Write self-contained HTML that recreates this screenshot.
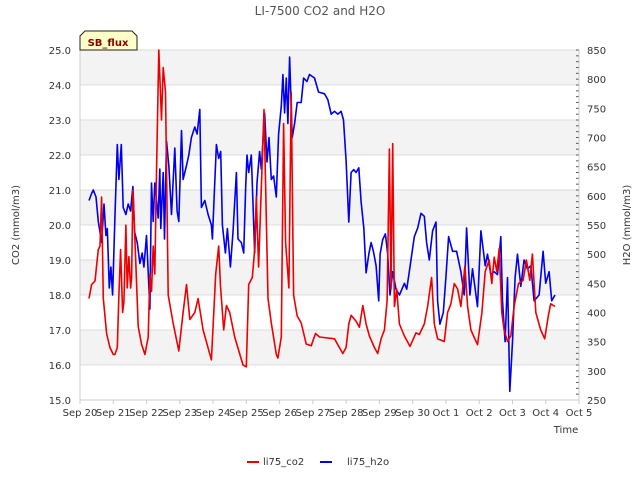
<!DOCTYPE html>
<html><head><meta charset="utf-8"><style>
body{margin:0;background:#fff;}
svg{display:block;font-family:"DejaVu Sans","Liberation Sans",sans-serif;}
</style></head><body>
<svg id="chart" width="640" height="480">
<text x="320" y="15" text-anchor="middle" font-size="12" fill="#555">LI-7500 CO2 and H2O</text>
<g id="bands"></g><g id="grid"></g><g id="axes"></g><g id="series"></g>
<text x="19" y="225" transform="rotate(-90 19 225)" text-anchor="middle" font-size="10" fill="#333">CO2 (mmol/m3)</text>
<text x="630" y="225" transform="rotate(-90 630 225)" text-anchor="middle" font-size="10" fill="#333">H2O (mmol/m3)</text>
<text x="566" y="433" text-anchor="middle" font-size="10" fill="#333">Time</text>
<g>
<path d="M80,50 L80,36 L85,31 L132,31 L137,36 L137,50 Z" fill="#ffffc8" stroke="#222" stroke-width="1"/>
<text x="108" y="46" text-anchor="middle" font-size="10" font-weight="bold" fill="#8b0000">SB_flux</text>
</g>
<g><line x1="247" y1="462" x2="259" y2="462" stroke="#e00" stroke-width="2"/><text x="263" y="465" font-size="10" fill="#333">li75_co2</text></g>
<g><line x1="320" y1="462" x2="332" y2="462" stroke="#00f" stroke-width="2"/><text x="347" y="465" font-size="10" fill="#333">li75_h2o</text></g>
</svg>
<script>
const xTickLabels=["Sep 20","Sep 21","Sep 22","Sep 23","Sep 24","Sep 25","Sep 26","Sep 27","Sep 28","Sep 29","Sep 30","Oct 1","Oct 2","Oct 3","Oct 4","Oct 5"];
const leftTicks=[15,16,17,18,19,20,21,22,23,24,25];
const rightTicks=[250,300,350,400,450,500,550,600,650,700,750,800,850];
const co2T=[0.27,0.35,0.45,0.55,0.6,0.65,0.7,0.8,0.9,1.0,1.05,1.12,1.17,1.22,1.28,1.32,1.38,1.42,1.47,1.52,1.55,1.59,1.65,1.75,1.85,1.95,2.05,2.1,2.15,2.2,2.25,2.3,2.37,2.45,2.5,2.57,2.65,2.8,2.97,3.1,3.2,3.3,3.45,3.55,3.7,3.95,4.08,4.17,4.22,4.32,4.4,4.5,4.65,4.9,5.0,5.07,5.18,5.25,5.3,5.37,5.53,5.65,5.75,5.9,5.95,6.05,6.12,6.18,6.28,6.35,6.42,6.53,6.65,6.8,6.95,7.08,7.2,7.65,7.9,8.0,8.08,8.15,8.3,8.4,8.5,8.6,8.7,8.85,8.95,9.05,9.15,9.23,9.3,9.35,9.4,9.45,9.52,9.6,9.75,9.92,10.1,10.2,10.35,10.45,10.57,10.65,10.75,10.95,11.05,11.15,11.25,11.35,11.45,11.57,11.65,11.75,11.95,12.08,12.18,12.3,12.38,12.45,12.53,12.6,12.68,12.75,12.85,12.95,13.05,13.18,13.32,13.42,13.52,13.6,13.7,13.85,13.97,14.08,14.15,14.28];
const co2V=[17.9,18.3,18.4,19.3,19.4,20.8,17.9,16.9,16.5,16.3,16.3,16.5,18.0,19.3,17.5,17.8,20.0,18.2,19.1,18.2,18.5,21.0,19.6,17.1,16.6,16.3,16.8,18.6,18.1,19.4,18.6,21.5,25.0,23.0,24.5,23.8,18.0,17.2,16.4,17.5,18.3,17.3,17.5,17.9,17.0,16.15,18.6,19.4,18.3,17.0,17.7,17.5,16.8,16.0,15.95,18.3,18.5,19.3,20.8,18.8,23.3,17.9,17.2,16.3,16.2,16.8,22.9,19.5,18.2,23.8,18.0,17.4,17.2,16.6,16.55,16.9,16.8,16.75,16.33,16.5,17.17,17.42,17.25,17.08,17.7,17.17,16.83,16.5,16.33,16.75,17.0,17.83,22.17,18.17,22.33,17.67,18.17,17.17,16.83,16.53,16.92,16.87,17.17,17.67,18.5,17.17,16.75,16.67,17.5,17.75,18.33,18.17,17.67,18.83,17.67,17.0,16.58,17.5,18.67,19.0,18.33,19.08,18.67,19.33,17.5,17.0,16.67,16.83,17.67,18.33,18.42,19.0,18.42,19.17,17.5,17.0,16.75,17.42,17.75,17.67];
const h2oT=[0.27,0.35,0.4,0.48,0.55,0.65,0.72,0.78,0.82,0.88,0.93,0.98,1.05,1.12,1.17,1.24,1.3,1.38,1.45,1.52,1.59,1.64,1.72,1.8,1.87,1.92,2.0,2.1,2.15,2.2,2.25,2.35,2.4,2.43,2.5,2.54,2.6,2.67,2.75,2.85,2.92,2.97,3.05,3.1,3.2,3.27,3.35,3.45,3.52,3.6,3.65,3.75,3.85,3.95,3.98,4.02,4.1,4.17,4.23,4.28,4.37,4.43,4.52,4.6,4.7,4.75,4.85,4.92,4.98,5.02,5.07,5.15,5.25,5.32,5.4,5.45,5.55,5.62,5.68,5.75,5.82,5.9,5.97,6.05,6.1,6.15,6.2,6.25,6.3,6.38,6.45,6.53,6.65,6.72,6.82,6.9,7.05,7.17,7.35,7.45,7.55,7.65,7.75,7.85,7.92,8.0,8.08,8.15,8.23,8.3,8.38,8.45,8.53,8.6,8.68,8.75,8.82,8.9,8.98,9.02,9.1,9.18,9.25,9.32,9.4,9.5,9.6,9.75,9.82,9.9,10.05,10.15,10.25,10.35,10.42,10.5,10.6,10.7,10.75,10.82,10.92,11.0,11.08,11.2,11.32,11.45,11.55,11.62,11.72,11.8,11.95,12.05,12.18,12.25,12.35,12.45,12.55,12.65,12.7,12.78,12.85,12.92,13.0,13.08,13.15,13.25,13.35,13.45,13.55,13.65,13.8,13.92,14.0,14.1,14.18,14.28];
const h2oV=[592,604,610,598,556,520,586,532,544,442,478,430,562,688,628,688,580,568,586,574,616,538,520,484,502,478,532,406,622,556,622,562,646,544,640,526,694,652,568,682,574,556,712,628,652,670,700,718,706,748,580,592,568,550,526,580,688,664,676,550,502,544,478,538,640,526,520,502,616,670,640,670,502,622,676,646,742,658,700,628,634,598,706,754,808,742,802,724,838,700,724,760,760,802,796,808,802,778,775,765,740,745,740,745,730,660,555,640,645,640,648,590,545,468,500,520,505,480,420,500,525,535,500,430,470,440,430,450,440,470,530,545,570,565,520,490,540,555,420,380,400,460,530,505,505,470,430,545,430,475,410,540,480,500,465,470,465,530,420,350,460,265,350,460,500,445,490,475,480,420,430,505,450,470,420,430];
const NS='http://www.w3.org/2000/svg';
const X0=80,X1=579,Y0=50,Y1=400;
const xS=t=>X0+t*(X1-X0)/15;
const yL=v=>Y1-(v-15)*(Y1-Y0)/10;
const yR=v=>Y1-(v-250)*(Y1-Y0)/600;
function mk(tag,attrs,parent){const e=document.createElementNS(NS,tag);for(const k in attrs)e.setAttribute(k,attrs[k]);parent.appendChild(e);return e;}
const bands=document.getElementById('bands'),grid=document.getElementById('grid'),axes=document.getElementById('axes'),series=document.getElementById('series');
mk('rect',{x:X0,y:Y0,width:X1-X0,height:Y1-Y0,fill:'#fff'},bands);
for(let i=16;i<25;i+=2){const r=mk('rect',{x:X0,y:yL(i+1),width:X1-X0,height:yL(i)-yL(i+1),fill:'#f3f3f3'},bands);

}
leftTicks.forEach(v=>{const l=mk('line',{x1:X0,x2:X1,y1:yL(v),y2:yL(v),stroke:'#ddd','stroke-width':1},grid);


const t=mk('text',{x:X0-9,y:yL(v)+4,'text-anchor':'end','font-size':10,fill:'#333'},axes);t.textContent=v.toFixed(1);

});
rightTicks.forEach(v=>{const t=mk('text',{x:X1+8,y:yR(v)+4,'font-size':10,fill:'#333'},axes);t.textContent=v;

});
for(let v=250;v<=850;v+=10){mk('line',{x1:X1-3,x2:X1,y1:yR(v),y2:yR(v),stroke:'#555','stroke-width':1},axes);}
mk('line',{x1:X0,x2:X0,y1:Y0,y2:Y1,stroke:'#ccc'},axes);
mk('line',{x1:X1,x2:X1,y1:Y0,y2:Y1,stroke:'#ccc'},axes);
mk('line',{x1:X0,x2:X1,y1:Y1,y2:Y1,stroke:'#ccc'},axes);
xTickLabels.forEach((s,i)=>{mk('line',{x1:xS(i),x2:xS(i),y1:Y1,y2:Y1+4,stroke:'#ccc'},axes);
const t=mk('text',{x:xS(i),y:Y1+16,'text-anchor':'middle','font-size':10,fill:'#333'},axes);t.textContent=s;

});
function line(T,V,ys,color,name){const d=T.map((t,i)=>(i?'L':'M')+xS(t).toFixed(1)+','+ys(V[i]).toFixed(1)).join('');
const p=mk('path',{d:d,fill:'none',stroke:color,'stroke-width':1.6,'stroke-linejoin':'round'},series);

}
line(h2oT,h2oV,yR,'#0000ee','h2o-line');
line(co2T,co2V,yL,'#ee0000','co2-line');
</script>
</body></html>
